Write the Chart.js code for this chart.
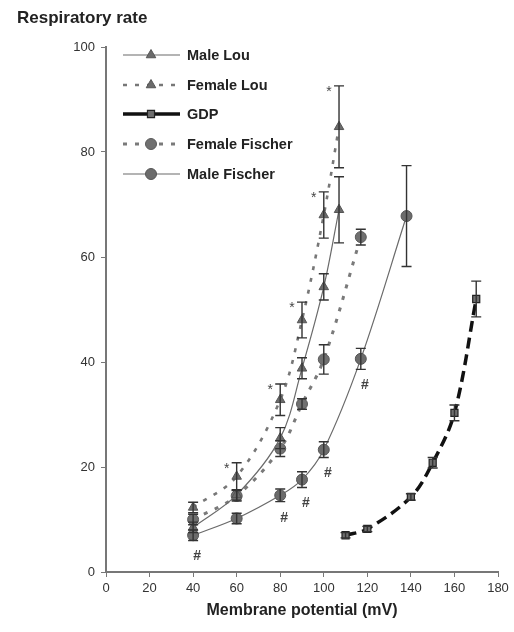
<!DOCTYPE html>
<html>
<head>
<meta charset="utf-8">
<script src="https://cdn.jsdelivr.net/npm/chart.js@4.4.1/dist/chart.umd.min.js"></script>
<style>
html,body{margin:0;padding:0;background:#fff;}
#wrap{width:514px;height:632px;position:relative;}
</style>
</head>
<body>
<div id="wrap"><canvas id="c" width="514" height="632"></canvas></div>
<script>
// ---- data ----
const seriesNames = ['Male Lou', 'Female Lou', 'GDP', 'Female Fischer', 'Male Fischer'];

const maleLouX   = [40, 60, 80, 90, 100, 107];
const maleLouY   = [8.5, 14.7, 25.5, 38.8, 54.3, 69];
const maleLouErr = [1, 1, 2, 2, 2.5, 6.3];

const femaleLouX   = [40, 60, 80, 90, 100, 107];
const femaleLouY   = [12.3, 18.2, 32.8, 48, 68, 84.8];
const femaleLouErr = [1, 2.6, 3, 3.4, 4.4, 7.8];
const femaleLouStar = [false, true, true, true, true, true];

const gdpX   = [110, 120, 140, 150, 160, 170];
const gdpY   = [7, 8.2, 14.3, 20.8, 30.3, 52];
const gdpErr = [0.5, 0.5, 0.6, 1, 1.5, 3.4];

const femaleFischerX   = [40, 60, 80, 90, 100, 117];
const femaleFischerY   = [10, 14.5, 23.5, 32, 40.5, 63.8];
const femaleFischerErr = [1, 1, 1.5, 1, 2.8, 1.5];

const maleFischerX    = [40, 60, 80, 90, 100, 117, 138];
const maleFischerY    = [7, 10.2, 14.6, 17.6, 23.3, 40.6, 67.8];
const maleFischerErr  = [1, 1, 1.2, 1.5, 1.5, 2, 9.6];
const maleFischerHash = [true, false, true, true, true, true, false];

const xTicks = [0, 20, 40, 60, 80, 100, 120, 140, 160, 180];
const yTicks = [0, 20, 40, 60, 80, 100];

// ---- build ----
function pts(xs, ys) { return xs.map((x, i) => ({x: x, y: ys[i]})); }
const errs = [maleLouErr, femaleLouErr, gdpErr, femaleFischerErr, maleFischerErr];

const FONT = "'Liberation Sans', Arial, sans-serif";

const datasets = [
  { label: seriesNames[0], data: pts(maleLouX, maleLouY), borderColor: '#6a6a6a', borderWidth: 1.2,
    pointStyle: 'triangle', pointRadius: 5.5, backgroundColor: '#6b6b6b', pointBorderColor: '#555', pointBorderWidth: 1, tension: 0.35 },
  { label: seriesNames[1], data: pts(femaleLouX, femaleLouY), borderColor: '#777', borderWidth: 2.6, borderDash: [4, 8],
    pointStyle: 'triangle', pointRadius: 5.5, backgroundColor: '#6b6b6b', pointBorderColor: '#555', pointBorderWidth: 1, tension: 0.35 },
  { label: seriesNames[2], data: pts(gdpX, gdpY), borderColor: '#111', borderWidth: 3.5, borderDash: [11, 6],
    pointStyle: 'rect', pointRadius: 5, backgroundColor: '#6e6e6e', pointBorderColor: '#222', pointBorderWidth: 1.2, tension: 0.35 },
  { label: seriesNames[3], data: pts(femaleFischerX, femaleFischerY), borderColor: '#7a7a7a', borderWidth: 3, borderDash: [4, 8],
    pointStyle: 'circle', pointRadius: 5.5, backgroundColor: '#707070', pointBorderColor: '#5a5a5a', pointBorderWidth: 1, tension: 0.35 },
  { label: seriesNames[4], data: pts(maleFischerX, maleFischerY), borderColor: '#6a6a6a', borderWidth: 1.2,
    pointStyle: 'circle', pointRadius: 5.5, backgroundColor: '#6b6b6b', pointBorderColor: '#555', pointBorderWidth: 1, tension: 0.35 }
];

const errorBars = {
  id: 'errorBars',
  afterDatasetsDraw(chart) {
    const ctx = chart.ctx, xs = chart.scales.x, ys = chart.scales.y;
    ctx.save();
    ctx.strokeStyle = '#333';
    ctx.lineWidth = 1.4;
    chart.data.datasets.forEach((ds, di) => {
      ds.data.forEach((p, i) => {
        const e = errs[di][i];
        const px = xs.getPixelForValue(p.x);
        const top = ys.getPixelForValue(p.y + e), bot = ys.getPixelForValue(p.y - e);
        ctx.beginPath();
        ctx.moveTo(px, top); ctx.lineTo(px, bot);
        ctx.moveTo(px - 5, top); ctx.lineTo(px + 5, top);
        ctx.moveTo(px - 5, bot); ctx.lineTo(px + 5, bot);
        ctx.stroke();
      });
    });
    // significance marks
    ctx.fillStyle = '#444';
    ctx.font = '14px ' + FONT;
    ctx.textAlign = 'center';
    ctx.textBaseline = 'middle';
    femaleLouX.forEach((x, i) => {
      if (!femaleLouStar[i]) return;
      const px = xs.getPixelForValue(x) - 10;
      const py = ys.getPixelForValue(femaleLouY[i] + femaleLouErr[i]) + 6;
      ctx.fillText('*', px, py);
    });
    ctx.font = 'bold 14px ' + FONT;
    maleFischerX.forEach((x, i) => {
      if (!maleFischerHash[i]) return;
      const px = xs.getPixelForValue(x) + 4;
      const py = ys.getPixelForValue(maleFischerY[i] - maleFischerErr[i]) + 16;
      ctx.fillText('#', px, py);
    });
    ctx.restore();
  }
};

const customLegend = {
  id: 'customLegend',
  afterDraw(chart) {
    const ctx = chart.ctx;
    const x0 = 123, x1 = 180, mx = 151, tx = 187;
    const ys = [55, 85, 114, 144, 174];
    ctx.save();
    chart.data.datasets.forEach((ds, i) => {
      const y = ys[i];
      ctx.strokeStyle = ds.borderColor;
      ctx.lineWidth = ds.borderWidth;
      ctx.setLineDash(i === 2 ? [] : (ds.borderDash || []));
      ctx.beginPath(); ctx.moveTo(x0, y); ctx.lineTo(x1, y); ctx.stroke();
      ctx.setLineDash([]);
      ctx.fillStyle = ds.backgroundColor;
      ctx.strokeStyle = ds.pointBorderColor;
      ctx.lineWidth = ds.pointBorderWidth;
      Chart.helpers.drawPoint(ctx, {pointStyle: ds.pointStyle, radius: ds.pointRadius, borderWidth: ds.pointBorderWidth, rotation: 0}, mx, y);
      ctx.fillStyle = '#222';
      ctx.font = 'bold 14.5px ' + FONT;
      ctx.textAlign = 'left';
      ctx.textBaseline = 'middle';
      ctx.fillText(ds.label, tx, y + 1);
    });
    ctx.restore();
  }
};

new Chart(document.getElementById('c'), {
  type: 'scatter',
  data: { datasets: datasets.map(d => Object.assign({showLine: true}, d)) },
  options: {
    responsive: false,
    animation: false,
    layout: { padding: { left: 17, right: 16, top: 0, bottom: 0 } },
    plugins: {
      legend: { display: false },
      tooltip: { enabled: false },
      title: { display: true, text: 'Respiratory rate', align: 'start', color: '#222',
               font: { family: FONT, size: 17, weight: 'bold' }, padding: { top: 8, bottom: 18.6 } }
    },
    scales: {
      x: {
        type: 'linear', min: 0, max: 180,
        afterBuildTicks: s => { s.ticks = xTicks.map(v => ({value: v})); },
        afterFit: s => { s.height = 60; },
        grid: { drawOnChartArea: false, drawTicks: true, tickLength: 5, color: '#777' },
        border: { color: '#777', width: 2 },
        ticks: { color: '#333', padding: 4, font: { family: FONT, size: 13 }, maxRotation: 0 },
        title: { display: true, text: 'Membrane potential (mV)', color: '#222',
                 font: { family: FONT, size: 16, weight: 'bold' }, padding: { top: 0, bottom: 12 } }
      },
      y: {
        type: 'linear', min: 0, max: 100,
        afterBuildTicks: s => { s.ticks = yTicks.map(v => ({value: v})); },
        afterFit: s => { s.width = 89; },
        grid: { drawOnChartArea: false, drawTicks: true, tickLength: 5, color: '#777' },
        border: { color: '#777', width: 2 },
        ticks: { color: '#333', padding: 6, font: { family: FONT, size: 13 } }
      }
    }
  },
  plugins: [errorBars, customLegend]
});
</script>
</body>
</html>
